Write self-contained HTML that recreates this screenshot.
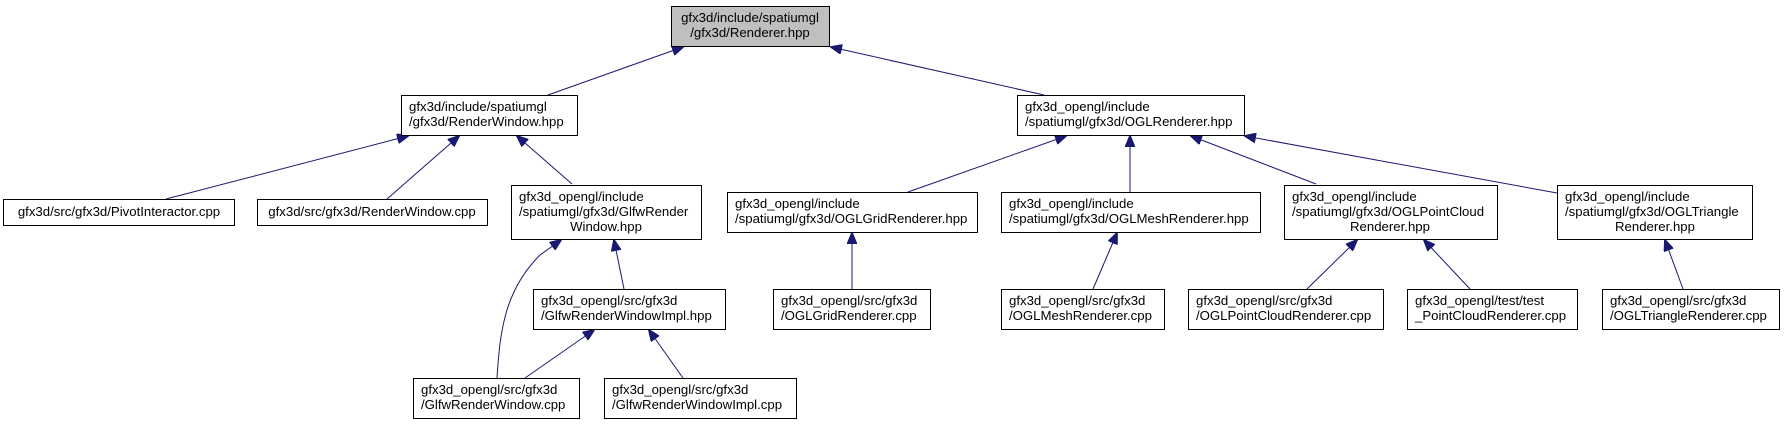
<!DOCTYPE html>
<html><head><meta charset="utf-8"><style>
body{margin:0;background:#fff}
svg{display:block}
text{font-family:"Liberation Sans",Arial,sans-serif;font-size:13.2px;fill:#000}
rect{fill:#fff;stroke:#000;stroke-width:1}
line,path{stroke:#191970;stroke-width:1;fill:none}
</style></head><body>
<svg width="1785" height="424" viewBox="0 0 1785 424">
<defs><marker id="a" markerWidth="12" markerHeight="10" refX="11" refY="5" orient="auto" markerUnits="userSpaceOnUse"><polygon points="0,0 12,5 0,10" fill="#191970" stroke="#191970"/></marker></defs>
<line x1="548" y1="95" x2="683" y2="47" marker-end="url(#a)"/>
<line x1="1044" y1="95" x2="831" y2="47" marker-end="url(#a)"/>
<line x1="166" y1="199" x2="408" y2="136" marker-end="url(#a)"/>
<line x1="387" y1="199" x2="459" y2="136" marker-end="url(#a)"/>
<line x1="572" y1="184" x2="517" y2="136" marker-end="url(#a)"/>
<path d="M497,378 C500,330 505,290 540,255 L561,240" marker-end="url(#a)"/>
<line x1="624" y1="289" x2="614" y2="240" marker-end="url(#a)"/>
<line x1="525" y1="378" x2="594" y2="330" marker-end="url(#a)"/>
<line x1="683" y1="378" x2="649" y2="330" marker-end="url(#a)"/>
<line x1="852" y1="289" x2="852" y2="233" marker-end="url(#a)"/>
<line x1="908" y1="192" x2="1066" y2="136" marker-end="url(#a)"/>
<line x1="1130" y1="192" x2="1130" y2="136" marker-end="url(#a)"/>
<line x1="1316" y1="184" x2="1191" y2="136" marker-end="url(#a)"/>
<line x1="1557" y1="193" x2="1245" y2="136" marker-end="url(#a)"/>
<line x1="1093" y1="289" x2="1117" y2="233" marker-end="url(#a)"/>
<line x1="1307" y1="289" x2="1357" y2="240" marker-end="url(#a)"/>
<line x1="1470" y1="289" x2="1424" y2="240" marker-end="url(#a)"/>
<line x1="1683" y1="289" x2="1665" y2="240" marker-end="url(#a)"/>

<rect x="671.5" y="6.5" width="158" height="40" style="fill:#bfbfbf"/>
<text x="750" y="22" text-anchor="middle">gfx3d/include/spatiumgl</text>
<text x="750" y="37" text-anchor="middle">/gfx3d/Renderer.hpp</text>

<rect x="401.5" y="95.5" width="176" height="40"/>
<text x="409" y="111">gfx3d/include/spatiumgl</text>
<text x="409" y="126">/gfx3d/RenderWindow.hpp</text>

<rect x="1017.5" y="95.5" width="227" height="40"/>
<text x="1025" y="111">gfx3d_opengl/include</text>
<text x="1025" y="126">/spatiumgl/gfx3d/OGLRenderer.hpp</text>

<rect x="3.5" y="199.5" width="231" height="26"/>
<text x="119" y="216" text-anchor="middle">gfx3d/src/gfx3d/PivotInteractor.cpp</text>

<rect x="257.5" y="199.5" width="230" height="26"/>
<text x="372" y="216" text-anchor="middle">gfx3d/src/gfx3d/RenderWindow.cpp</text>

<rect x="511.5" y="185.5" width="190" height="54"/>
<text x="519" y="201">gfx3d_opengl/include</text>
<text x="519" y="216">/spatiumgl/gfx3d/GlfwRender</text>
<text x="606" y="231" text-anchor="middle">Window.hpp</text>

<rect x="727.5" y="192.5" width="250" height="40"/>
<text x="735" y="208">gfx3d_opengl/include</text>
<text x="735" y="223">/spatiumgl/gfx3d/OGLGridRenderer.hpp</text>

<rect x="1001.5" y="192.5" width="259" height="40"/>
<text x="1009" y="208">gfx3d_opengl/include</text>
<text x="1009" y="223">/spatiumgl/gfx3d/OGLMeshRenderer.hpp</text>

<rect x="1284.5" y="185.5" width="213" height="54"/>
<text x="1292" y="201">gfx3d_opengl/include</text>
<text x="1292" y="216">/spatiumgl/gfx3d/OGLPointCloud</text>
<text x="1390" y="231" text-anchor="middle">Renderer.hpp</text>

<rect x="1557.5" y="185.5" width="195" height="54"/>
<text x="1565" y="201">gfx3d_opengl/include</text>
<text x="1565" y="216">/spatiumgl/gfx3d/OGLTriangle</text>
<text x="1655" y="231" text-anchor="middle">Renderer.hpp</text>

<rect x="533.5" y="289.5" width="192" height="40"/>
<text x="541" y="305">gfx3d_opengl/src/gfx3d</text>
<text x="541" y="320">/GlfwRenderWindowImpl.hpp</text>

<rect x="773.5" y="289.5" width="157" height="40"/>
<text x="781" y="305">gfx3d_opengl/src/gfx3d</text>
<text x="781" y="320">/OGLGridRenderer.cpp</text>

<rect x="1001.5" y="289.5" width="163" height="40"/>
<text x="1009" y="305">gfx3d_opengl/src/gfx3d</text>
<text x="1009" y="320">/OGLMeshRenderer.cpp</text>

<rect x="1188.5" y="289.5" width="195" height="40"/>
<text x="1196" y="305">gfx3d_opengl/src/gfx3d</text>
<text x="1196" y="320">/OGLPointCloudRenderer.cpp</text>

<rect x="1407.5" y="289.5" width="170" height="40"/>
<text x="1415" y="305">gfx3d_opengl/test/test</text>
<text x="1415" y="320">_PointCloudRenderer.cpp</text>

<rect x="1602.5" y="289.5" width="177" height="40"/>
<text x="1610" y="305">gfx3d_opengl/src/gfx3d</text>
<text x="1610" y="320">/OGLTriangleRenderer.cpp</text>

<rect x="413.5" y="378.5" width="166" height="40"/>
<text x="421" y="394">gfx3d_opengl/src/gfx3d</text>
<text x="421" y="409">/GlfwRenderWindow.cpp</text>

<rect x="604.5" y="378.5" width="192" height="40"/>
<text x="612" y="394">gfx3d_opengl/src/gfx3d</text>
<text x="612" y="409">/GlfwRenderWindowImpl.cpp</text>
</svg>
</body></html>
